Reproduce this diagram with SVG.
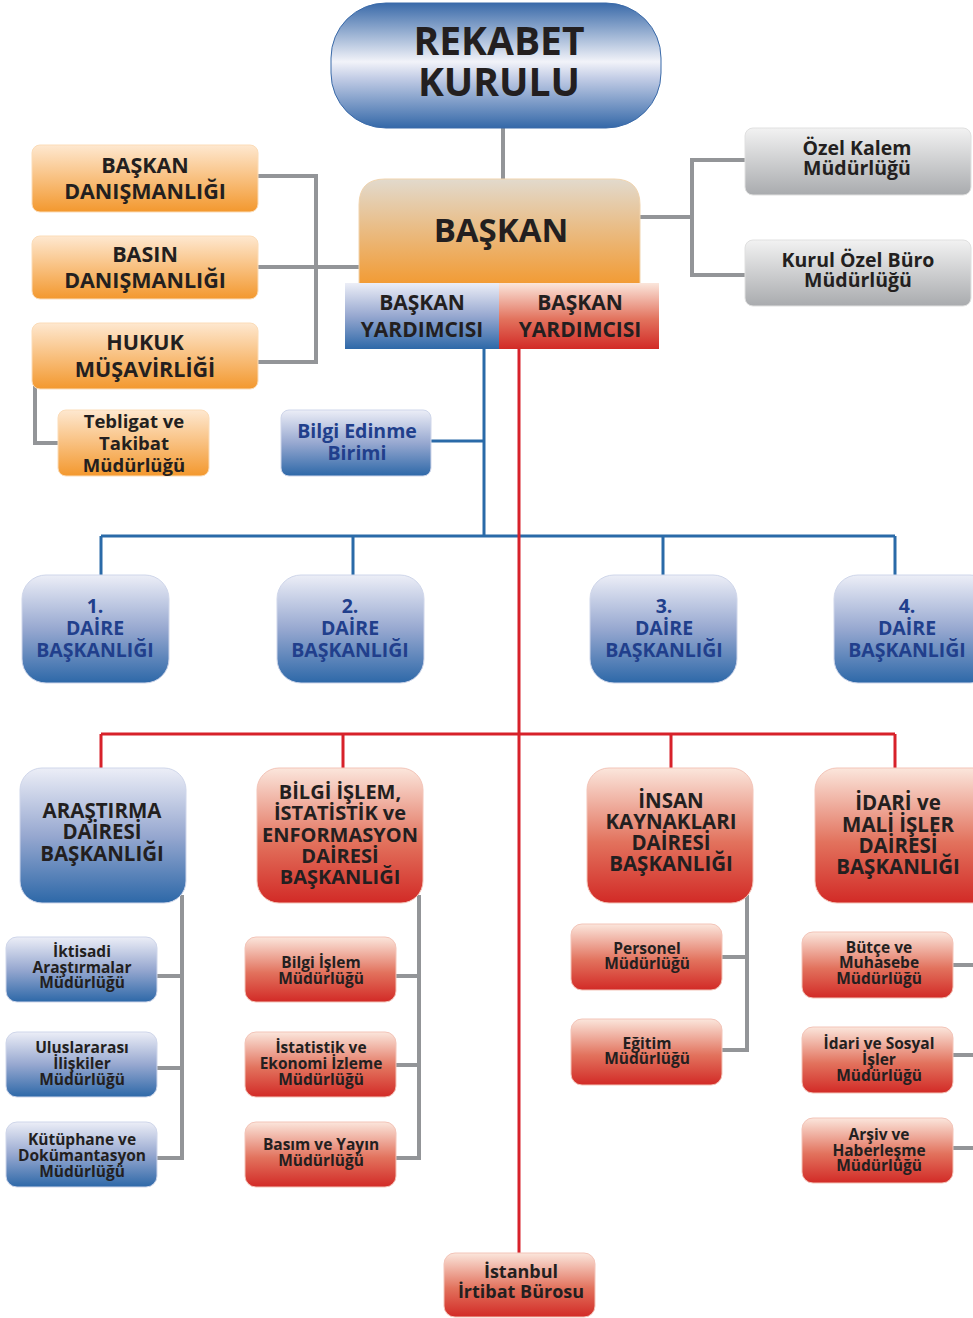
<svg xmlns="http://www.w3.org/2000/svg" width="973" height="1318" viewBox="0 0 973 1318">
<defs>
<linearGradient id="gPill" x1="0" y1="0" x2="0" y2="1">
<stop offset="0" stop-color="#3a6aa9"/><stop offset="0.47" stop-color="#f2f3f9"/><stop offset="0.6" stop-color="#c3cde6"/><stop offset="1" stop-color="#3468a8"/>
</linearGradient>
<linearGradient id="gBlue" x1="0" y1="0" x2="0" y2="1">
<stop offset="0" stop-color="#eceef7"/><stop offset="0.5" stop-color="#97a8d0"/><stop offset="1" stop-color="#2d68a8"/>
</linearGradient>
<linearGradient id="gRed" x1="0" y1="0" x2="0" y2="1">
<stop offset="0" stop-color="#fbe6dc"/><stop offset="0.55" stop-color="#e2725d"/><stop offset="1" stop-color="#d22a26"/>
</linearGradient>
<linearGradient id="gOrange" x1="0" y1="0" x2="0" y2="1">
<stop offset="0" stop-color="#fee8d0"/><stop offset="1" stop-color="#f3982e"/>
</linearGradient>
<linearGradient id="gGray" x1="0" y1="0" x2="0" y2="1">
<stop offset="0" stop-color="#f2f2f2"/><stop offset="1" stop-color="#a9abae"/>
</linearGradient>
<linearGradient id="gBaskan" x1="0" y1="0" x2="0" y2="1">
<stop offset="0" stop-color="#e2dacd"/><stop offset="1" stop-color="#f29b34"/>
</linearGradient>
</defs>
<style>
text{font-family:"Open Sans","Noto Sans","Liberation Sans",sans-serif;font-weight:bold;fill:#231f20;text-anchor:middle}
.blueT{fill:#213f8c}
.blue{fill:url(#gBlue);stroke:#cfd6ea;stroke-width:1}
.red{fill:url(#gRed);stroke:#f3c4b8;stroke-width:1}
.orange{fill:url(#gOrange);stroke:#fbdcb8;stroke-width:1}
.gray{fill:url(#gGray);stroke:#e0e0e0;stroke-width:1}
.cg{stroke:#939598;stroke-width:4;fill:none}
.cb{stroke:#2a6aa8;stroke-width:3;fill:none}
.cr{stroke:#d7212a;stroke-width:3;fill:none}
.s16{font-size:15.5px}
</style>

<g id="connectors">
<path class="cg" d="M503 126V180"/>
<path class="cg" d="M258 176H316V362H258M258 267H361"/>
<path class="cg" d="M35 386V443H60"/>
<path class="cg" d="M638 217H692M745 160H692V275H745"/>
<path class="cg" d="M150 976H182V1158H150M182 1068H150M182 895V976"/>
<path class="cg" d="M390 976H419V1158H390M419 1065H390M419 895V976"/>
<path class="cg" d="M716 957H747V1050H716M747 895V957"/>
<path class="cg" d="M950 965H973M950 1055H973M950 1148H973"/>
<path class="cb" d="M484 349V536M431 441H484M101 536H895M101 536V576M353 536V576M663 536V576M895 536V576"/>
<path class="cr" d="M519 349V1254M101 734H895M101 734V769M343 734V769M671 734V769M895 734V769"/>
</g>

<g id="rekabet">
<rect x="331" y="3" width="330" height="125" rx="55" fill="url(#gPill)" stroke="#3a6aa9" stroke-width="1"/>
<text x="499" y="55" font-size="39">REKABET<tspan x="499" dy="41">KURULU</tspan></text>
</g>

<g id="baskan">
<path d="M385 179H614Q640 179 640 205V284H359V205Q359 179 385 179Z" fill="url(#gBaskan)" stroke="#f0d3ad" stroke-width="1"/>
<text x="501" y="242" font-size="33">BAŞKAN</text>
</g>

<g id="by-blue">
<rect x="345" y="283" width="154" height="66" fill="url(#gBlue)"/>
<text x="422" y="310" font-size="21">BAŞKAN<tspan x="422" dy="27">YARDIMCISI</tspan></text>
</g>
<g id="by-red">
<rect x="499" y="283" width="160" height="66" fill="url(#gRed)"/>
<text x="580" y="310" font-size="21">BAŞKAN<tspan x="580" dy="27">YARDIMCISI</tspan></text>
</g>

<g id="baskan-danismanligi">
<rect class="orange" x="32" y="145" width="226" height="67" rx="8"/>
<text x="145" y="173" font-size="21.5">BAŞKAN<tspan x="145" dy="26">DANIŞMANLIĞI</tspan></text>
</g>
<g id="basin-danismanligi">
<rect class="orange" x="32" y="236" width="226" height="63" rx="8"/>
<text x="145" y="262" font-size="21.5">BASIN<tspan x="145" dy="26">DANIŞMANLIĞI</tspan></text>
</g>
<g id="hukuk">
<rect class="orange" x="32" y="323" width="226" height="66" rx="8"/>
<text x="145" y="350" font-size="21.5">HUKUK<tspan x="145" dy="27">MÜŞAVİRLİĞİ</tspan></text>
</g>
<g id="tebligat">
<rect class="orange" x="58" y="410" width="151" height="66" rx="8"/>
<text x="134" y="428" font-size="18.5">Tebligat ve<tspan x="134" dy="22">Takibat</tspan><tspan x="134" dy="22">Müdürlüğü</tspan></text>
</g>

<g id="ozel-kalem">
<rect class="gray" x="745" y="128" width="226" height="67" rx="8"/>
<text x="857" y="155" font-size="19.5">Özel Kalem<tspan x="857" dy="20">Müdürlüğü</tspan></text>
</g>
<g id="kurul-ozel-buro">
<rect class="gray" x="745" y="240" width="226" height="66" rx="8"/>
<text x="858" y="267" font-size="19.5">Kurul Özel Büro<tspan x="858" dy="20">Müdürlüğü</tspan></text>
</g>

<g id="bilgi-edinme">
<rect class="blue" x="281" y="410" width="150" height="66" rx="8"/>
<text class="blueT" x="357" y="438" font-size="19.5">Bilgi Edinme<tspan x="357" dy="22">Birimi</tspan></text>
</g>

<g id="daire1">
<rect class="blue" x="22" y="575" width="147" height="108" rx="24"/>
<text class="blueT" x="95" y="613" font-size="19.5">1.<tspan x="95" dy="22">DAİRE</tspan><tspan x="95" dy="22">BAŞKANLIĞI</tspan></text>
</g>
<g id="daire2">
<rect class="blue" x="277" y="575" width="147" height="108" rx="24"/>
<text class="blueT" x="350" y="613" font-size="19.5">2.<tspan x="350" dy="22">DAİRE</tspan><tspan x="350" dy="22">BAŞKANLIĞI</tspan></text>
</g>
<g id="daire3">
<rect class="blue" x="590" y="575" width="147" height="108" rx="24"/>
<text class="blueT" x="664" y="613" font-size="19.5">3.<tspan x="664" dy="22">DAİRE</tspan><tspan x="664" dy="22">BAŞKANLIĞI</tspan></text>
</g>
<g id="daire4">
<rect class="blue" x="834" y="575" width="160" height="108" rx="24"/>
<text class="blueT" x="907" y="613" font-size="19.5">4.<tspan x="907" dy="22">DAİRE</tspan><tspan x="907" dy="22">BAŞKANLIĞI</tspan></text>
</g>

<g id="arastirma">
<rect class="blue" x="20" y="768" width="166" height="135" rx="22"/>
<text x="102" y="818" font-size="20.5">ARAŞTIRMA<tspan x="102" dy="21">DAİRESİ</tspan><tspan x="102" dy="22">BAŞKANLIĞI</tspan></text>
</g>
<g id="bilgi-islem-daire">
<rect class="red" x="257" y="768" width="166" height="135" rx="22"/>
<text x="340" y="799" font-size="20">BİLGİ İŞLEM,<tspan x="340" dy="21">İSTATİSTİK ve</tspan><tspan x="340" dy="22">ENFORMASYON</tspan><tspan x="340" dy="21">DAİRESİ</tspan><tspan x="340" dy="21">BAŞKANLIĞI</tspan></text>
</g>
<g id="insan-kaynaklari">
<rect class="red" x="587" y="768" width="166" height="135" rx="22"/>
<text x="671" y="808" font-size="20.5">İNSAN<tspan x="671" dy="21">KAYNAKLARI</tspan><tspan x="671" dy="21">DAİRESİ</tspan><tspan x="671" dy="21">BAŞKANLIĞI</tspan></text>
</g>
<g id="idari-mali">
<rect class="red" x="815" y="768" width="180" height="135" rx="22"/>
<text x="898" y="810" font-size="20.5">İDARİ ve<tspan x="898" dy="22">MALİ İŞLER</tspan><tspan x="898" dy="21">DAİRESİ</tspan><tspan x="898" dy="21">BAŞKANLIĞI</tspan></text>
</g>

<g id="iktisadi">
<rect class="blue" x="6" y="937" width="151" height="65" rx="11"/>
<text class="s16" x="82" y="957">İktisadi<tspan x="82" dy="16">Araştırmalar</tspan><tspan x="82" dy="15">Müdürlüğü</tspan></text>
</g>
<g id="uluslararasi">
<rect class="blue" x="6" y="1032" width="151" height="65" rx="11"/>
<text class="s16" x="82" y="1053">Uluslararası<tspan x="82" dy="16">İlişkiler</tspan><tspan x="82" dy="16">Müdürlüğü</tspan></text>
</g>
<g id="kutuphane">
<rect class="blue" x="6" y="1122" width="151" height="65" rx="11"/>
<text class="s16" x="82" y="1145">Kütüphane ve<tspan x="82" dy="16">Dokümantasyon</tspan><tspan x="82" dy="16">Müdürlüğü</tspan></text>
</g>

<g id="bilgi-islem">
<rect class="red" x="245" y="937" width="151" height="65" rx="11"/>
<text class="s16" x="321" y="968">Bilgi İşlem<tspan x="321" dy="16">Müdürlüğü</tspan></text>
</g>
<g id="istatistik">
<rect class="red" x="245" y="1032" width="151" height="65" rx="11"/>
<text class="s16" x="321" y="1053">İstatistik ve<tspan x="321" dy="16">Ekonomi İzleme</tspan><tspan x="321" dy="16">Müdürlüğü</tspan></text>
</g>
<g id="basim-yayin">
<rect class="red" x="245" y="1122" width="151" height="65" rx="11"/>
<text class="s16" x="321" y="1150">Basım ve Yayın<tspan x="321" dy="16">Müdürlüğü</tspan></text>
</g>

<g id="personel">
<rect class="red" x="571" y="924" width="151" height="66" rx="11"/>
<text class="s16" x="647" y="954">Personel<tspan x="647" dy="15">Müdürlüğü</tspan></text>
</g>
<g id="egitim">
<rect class="red" x="571" y="1019" width="151" height="66" rx="11"/>
<text class="s16" x="647" y="1049">Eğitim<tspan x="647" dy="15">Müdürlüğü</tspan></text>
</g>

<g id="butce">
<rect class="red" x="802" y="932" width="151" height="66" rx="11"/>
<text class="s16" x="879" y="953">Bütçe ve<tspan x="879" dy="15">Muhasebe</tspan><tspan x="879" dy="16">Müdürlüğü</tspan></text>
</g>
<g id="idari-sosyal">
<rect class="red" x="802" y="1027" width="151" height="66" rx="11"/>
<text class="s16" x="879" y="1049">İdari ve Sosyal<tspan x="879" dy="16">İşler</tspan><tspan x="879" dy="16">Müdürlüğü</tspan></text>
</g>
<g id="arsiv">
<rect class="red" x="802" y="1118" width="151" height="65" rx="11"/>
<text class="s16" x="879" y="1140">Arşiv ve<tspan x="879" dy="16">Haberleşme</tspan><tspan x="879" dy="15">Müdürlüğü</tspan></text>
</g>

<g id="istanbul">
<rect class="red" x="444" y="1253" width="151" height="64" rx="11"/>
<text x="521" y="1278" font-size="18">İstanbul<tspan x="521" dy="20">İrtibat Bürosu</tspan></text>
</g>
</svg>
